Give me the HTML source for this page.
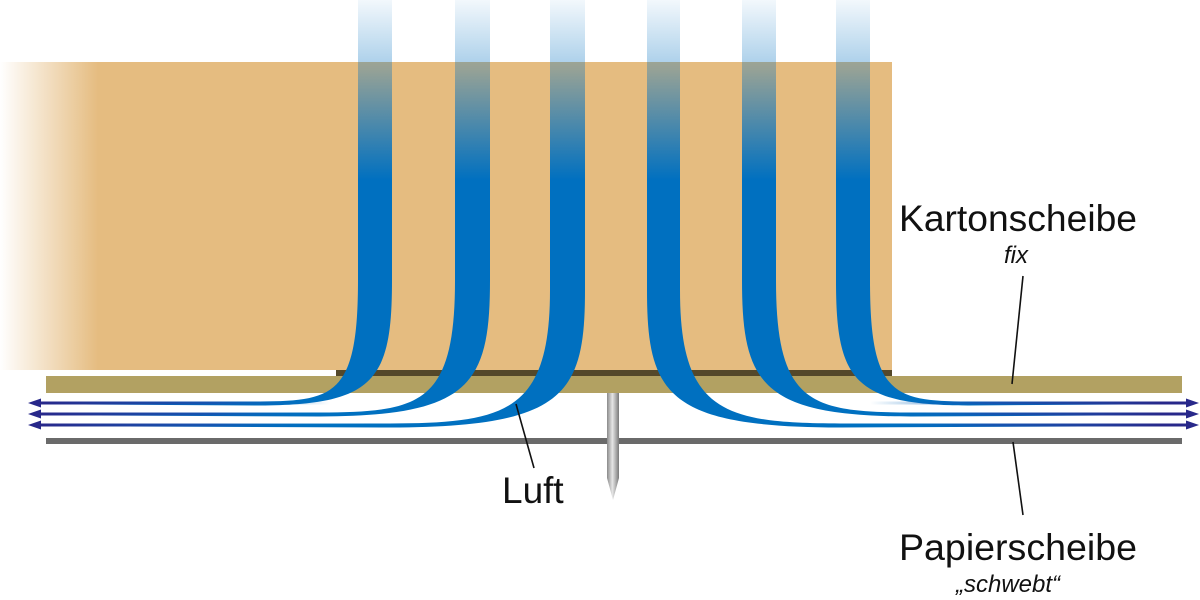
<!DOCTYPE html>
<html><head><meta charset="utf-8"><style>
html,body{margin:0;padding:0;background:#fff;}
svg{display:block;}
text{font-family:"Liberation Sans",Arial,sans-serif;fill:#111;}
</style></head><body>
<svg width="1200" height="600" viewBox="0 0 1200 600" xmlns="http://www.w3.org/2000/svg">
<defs>
<linearGradient id="fade" x1="0" x2="1" y1="0" y2="0">
<stop offset="0" stop-color="#e5bc80" stop-opacity="0"/>
<stop offset="0.11" stop-color="#e5bc80" stop-opacity="1"/>
<stop offset="1" stop-color="#e5bc80"/>
</linearGradient>
<linearGradient id="sg" gradientUnits="userSpaceOnUse" x1="0" y1="0" x2="0" y2="200">
<stop offset="0" stop-color="#0070c0" stop-opacity="0.05"/>
<stop offset="0.35" stop-color="#0070c0" stop-opacity="0.35"/>
<stop offset="0.9" stop-color="#0070c0" stop-opacity="1"/>
<stop offset="1" stop-color="#0070c0" stop-opacity="1"/>
</linearGradient>
<linearGradient id="lnL" gradientUnits="userSpaceOnUse" x1="40" y1="0" x2="330" y2="0">
<stop offset="0" stop-color="#28288a"/>
<stop offset="0.6" stop-color="#1a4fae" stop-opacity="0.8"/>
<stop offset="1" stop-color="#0070c0" stop-opacity="0"/>
</linearGradient>
<linearGradient id="lnR" gradientUnits="userSpaceOnUse" x1="1165" y1="0" x2="870" y2="0">
<stop offset="0" stop-color="#28288a"/>
<stop offset="0.6" stop-color="#1a4fae" stop-opacity="0.8"/>
<stop offset="1" stop-color="#0070c0" stop-opacity="0"/>
</linearGradient>
<linearGradient id="needle" x1="0" x2="1" y1="0" y2="0">
<stop offset="0" stop-color="#8a8a8a"/>
<stop offset="0.45" stop-color="#e6e6e6"/>
<stop offset="1" stop-color="#7a7a7a"/>
</linearGradient>
</defs>
<rect x="0" y="62" width="892" height="308" fill="url(#fade)"/>
<rect x="336" y="370" width="556" height="6" fill="#54482a"/>
<rect x="46" y="376" width="1136" height="17" fill="#b2a162"/>
<rect x="46" y="438" width="1136" height="6" fill="#6a6a6a"/>
<path d="M607,393 L619,393 L619,478 L613,500 L607,478 Z" fill="url(#needle)"/>
<g fill="url(#sg)">
<path d="M358,0 L358,280 C358,395 335,401 260,401.5 L40,401.8 L40,404.2 L260,405.5 C375,405 392,380 392,280 L392,0 Z"/>
<path d="M455,0 L455,280 C455,405 420,412 320,412.5 L40,412.8 L40,415.2 L320,416.5 C470,416 490,385 490,280 L490,0 Z"/>
<path d="M550,0 L550,290 C550,413 505,423 390,423.5 L40,423.8 L40,426.2 L390,427.5 C565,427 585,395 585,290 L585,0 Z"/>
<path d="M680,0 L680,290 C680,413 725,423 840,423.5 L1165,423.8 L1165,426.2 L840,427.5 C667,427 647,395 647,290 L647,0 Z"/>
<path d="M776,0 L776,280 C776,405 811,412 911,412.5 L1165,412.8 L1165,415.2 L911,416.5 C762,416 742,385 742,280 L742,0 Z"/>
<path d="M870,0 L870,280 C870,395 893,401 968,401.5 L1165,401.8 L1165,404.2 L968,405.5 C853,405 836,380 836,280 L836,0 Z"/>
</g>
<g stroke-width="3">
<line x1="38" y1="403" x2="330" y2="403" stroke="url(#lnL)"/>
<line x1="38" y1="414" x2="330" y2="414" stroke="url(#lnL)"/>
<line x1="38" y1="425" x2="330" y2="425" stroke="url(#lnL)"/>
<line x1="870" y1="403" x2="1165" y2="403" stroke="url(#lnR)"/>
<line x1="870" y1="414" x2="1165" y2="414" stroke="url(#lnR)"/>
<line x1="870" y1="425" x2="1165" y2="425" stroke="url(#lnR)"/>
</g>
<g fill="#28288a">
<path d="M28,403 L41,398.5 L41,407.5 Z"/>
<path d="M28,414 L41,409.5 L41,418.5 Z"/>
<path d="M28,425 L41,420.5 L41,429.5 Z"/>
<path d="M1199,403 L1186,398.5 L1186,407.5 Z"/>
<path d="M1199,414 L1186,409.5 L1186,418.5 Z"/>
<path d="M1199,425 L1186,420.5 L1186,429.5 Z"/>
<rect x="1160" y="401.5" width="27" height="3"/>
<rect x="1160" y="412.5" width="27" height="3"/>
<rect x="1160" y="423.5" width="27" height="3"/>
</g>
<g stroke="#111" stroke-width="1.6">
<line x1="1023" y1="276" x2="1012" y2="384"/>
<line x1="1013" y1="442" x2="1023" y2="515"/>
<line x1="516" y1="404" x2="534" y2="468"/>
</g>
<text x="899" y="231" font-size="37" textLength="238" lengthAdjust="spacingAndGlyphs">Kartonscheibe</text>
<text x="1004" y="263" font-size="24" font-style="italic">fix</text>
<text x="502" y="503" font-size="37">Luft</text>
<text x="899" y="560" font-size="37" textLength="238" lengthAdjust="spacingAndGlyphs">Papierscheibe</text>
<text x="956" y="592" font-size="24" font-style="italic">„schwebt“</text>
</svg>
</body></html>
